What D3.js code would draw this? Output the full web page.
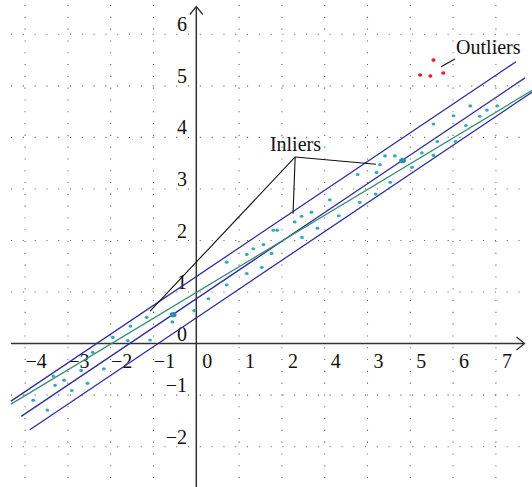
<!DOCTYPE html>
<html>
<head>
<meta charset="utf-8">
<script src="https://cdn.jsdelivr.net/npm/d3@7"></script>
<style>
  html, body { margin: 0; padding: 0; background: #fff; }
  svg { display: block; }
  text { font-family: "Liberation Serif", "Times New Roman", serif; font-size: 20px; fill: #111; }
</style>
</head>
<body>
<svg id="chart"></svg>
<script>
var width = 532, height = 487;

// tick values and their printed labels (the source prints "4" before "3")
var xTicks = [-4, -3, -2, -1, 0, 1, 2, 3, 4, 5, 6, 7];
var xTickLabels = ["\u22124", "\u22123", "\u22122", "\u22121", "0", "1", "2", "4", "3", "5", "6", "7"];
var yTicks = [-2, -1, 0, 1, 2, 3, 4, 5, 6];
var yTickLabels = ["\u22122", "\u22121", "0", "1", "2", "3", "4", "5", "6"];

// inlier points
var inlierX = [-3.81, -3.48, -3.34, -3.30, -3.09, -2.91, -2.69, -2.54, -2.42, -2.16,
               -1.95, -1.60, -1.54, -1.16, -1.08, -0.56, -0.05, 0.28, 0.71, 0.71,
               1.18, 1.18, 1.33, 1.53, 1.57, 1.76, 1.80, 1.89, 2.30, 2.46,
               2.47, 2.69, 2.83, 3.12, 3.33, 3.77, 3.82, 4.19, 4.21, 4.29,
               4.41, 4.53, 4.64, 5.04, 5.27, 5.54, 5.54, 5.63, 6.01, 6.06,
               6.30, 6.40, 6.62, 6.79, 7.03];
var inlierY = [-1.10, -1.29, -0.63, -0.81, -0.71, -0.91, -0.52, -0.77, -0.17, -0.49,
               0.12, 0.06, 0.34, 0.51, 0.07, 0.42, 0.64, 0.87, 1.58, 1.14,
               1.73, 1.36, 1.84, 1.48, 1.92, 1.75, 2.20, 2.20, 2.36, 2.47,
               2.06, 2.55, 2.24, 2.79, 2.48, 3.28, 2.74, 2.90, 3.32, 3.47,
               3.64, 3.13, 3.64, 3.42, 3.70, 4.26, 3.65, 3.92, 4.42, 3.92,
               4.23, 4.61, 4.41, 4.53, 4.61];

// the two sampled points
var sampleX = [-0.54, 4.82];
var sampleY = [0.56, 3.55];

// outliers
var outlierX = [5.54, 5.23, 5.47, 5.77];
var outlierY = [5.50, 5.21, 5.19, 5.25];

// model lines: [slope, intercept, xStart, xEnd]
var bandLines = [
    [0.558, 1.30, -4.33, 7.47],
    [0.558, 0.87, -4.09, 7.68],
    [0.558, 0.50, -3.89, 7.86]
];
var fitLine = [0.50, 0.99, -4.33, 7.86];

// annotation anchors
var inliersHub = [2.31, 3.62];
var inliersTargets = [[4.20, 3.48], [2.26, 2.52], [-1.08, 0.63]];
var outliersLeader = [[5.72, 5.37], [6.04, 5.52]];

var x = d3.scaleLinear().domain([-4, 7]).range([25.1, 495.9]);
var y = d3.scaleLinear().domain([-2, 6]).range([446.7, 34.3]);

var svg = d3.select("#chart")
    .attr("width", width)
    .attr("height", height);

var gGrid = svg.append("g"),
    gAxes = svg.append("g"),
    gLines = svg.append("g"),
    gPoints = svg.append("g"),
    gNotes = svg.append("g");

// dotted grid
gGrid.selectAll("line.v")
    .data(xTicks.filter(function(d) { return d != 0; }))
    .enter().append("line")
    .attr("x1", function(d) { return x(d); })
    .attr("x2", function(d) { return x(d); })
    .attr("y1", 5)
    .attr("y2", height)
    .style("stroke", "#666")
    .style("stroke-width", 1.1)
    .style("stroke-dasharray", "1.1,10.7");

gGrid.selectAll("line.h")
    .data(yTicks.filter(function(d) { return d != 0; }))
    .enter().append("line")
    .attr("y1", function(d) { return y(d); })
    .attr("y2", function(d) { return y(d); })
    .attr("x1", 11)
    .attr("x2", 526)
    .style("stroke", "#666")
    .style("stroke-width", 1.1)
    .style("stroke-dasharray", "1.1,10.7");

// axes with open arrowheads
var axisColor = "#333";
gAxes.append("line")
    .attr("x1", 11).attr("x2", 524)
    .attr("y1", y(0)).attr("y2", y(0))
    .style("stroke", axisColor).style("stroke-width", 1.5);
gAxes.append("path")
    .attr("d", "M" + 516.5 + "," + (y(0) - 6.5) + "L524.5," + y(0) + "L516.5," + (y(0) + 6.5))
    .style("fill", "none").style("stroke", axisColor).style("stroke-width", 1.3);

gAxes.append("line")
    .attr("x1", x(0)).attr("x2", x(0))
    .attr("y1", height).attr("y2", 7)
    .style("stroke", axisColor).style("stroke-width", 1.5);
gAxes.append("path")
    .attr("d", "M" + (x(0) - 6.5) + ",14.5L" + x(0) + ",6.5L" + (x(0) + 6.5) + ",14.5")
    .style("fill", "none").style("stroke", axisColor).style("stroke-width", 1.3);

// tick labels
gAxes.selectAll("text.xt")
    .data(xTicks)
    .enter().append("text")
    .attr("x", function(d) { return x(d) + 11; })
    .attr("y", y(0) + 24.5)
    .attr("text-anchor", "middle")
    .text(function(d, i) { return xTickLabels[i]; });

gAxes.selectAll("text.yt")
    .data(yTicks)
    .enter().append("text")
    .attr("x", 187)
    .attr("y", function(d) { return y(d) - 3; })
    .attr("text-anchor", "end")
    .text(function(d, i) { return yTickLabels[i]; });

// model lines
function drawModel(l, color) {
    gLines.append("line")
        .attr("x1", x(l[2]))
        .attr("y1", y(l[0] * l[2] + l[1]))
        .attr("x2", x(l[3]))
        .attr("y2", y(l[0] * l[3] + l[1]))
        .style("stroke", color)
        .style("stroke-width", 1.3);
}
bandLines.forEach(function(l) { drawModel(l, "#2e2e9c"); });
drawModel(fitLine, "#3a8d78");

// points
gPoints.selectAll("ellipse.in")
    .data(inlierX)
    .enter().append("ellipse")
    .attr("cx", function(d) { return x(d); })
    .attr("cy", function(d, i) { return y(inlierY[i]); })
    .attr("rx", 1.9)
    .attr("ry", 1.6)
    .style("fill", "#36a9b9");

gPoints.selectAll("ellipse.s")
    .data(sampleX)
    .enter().append("ellipse")
    .attr("cx", function(d) { return x(d); })
    .attr("cy", function(d, i) { return y(sampleY[i]); })
    .attr("rx", 3.4)
    .attr("ry", 2.7)
    .style("fill", "#2b8fae");

gPoints.selectAll("ellipse.out")
    .data(outlierX)
    .enter().append("ellipse")
    .attr("cx", function(d) { return x(d); })
    .attr("cy", function(d, i) { return y(outlierY[i]); })
    .attr("rx", 2.1)
    .attr("ry", 1.8)
    .style("fill", "#ee1c24");

// annotations
inliersTargets.forEach(function(t) {
    gNotes.append("line")
        .attr("x1", x(inliersHub[0])).attr("y1", y(inliersHub[1]))
        .attr("x2", x(t[0])).attr("y2", y(t[1]))
        .style("stroke", "#111").style("stroke-width", 1.1);
});
gNotes.append("text")
    .attr("x", x(1.72))
    .attr("y", y(3.74))
    .text("Inliers");

gNotes.append("line")
    .attr("x1", x(outliersLeader[0][0])).attr("y1", y(outliersLeader[0][1]))
    .attr("x2", x(outliersLeader[1][0])).attr("y2", y(outliersLeader[1][1]))
    .style("stroke", "#111").style("stroke-width", 1.1);
gNotes.append("text")
    .attr("x", x(6.07))
    .attr("y", y(5.62))
    .text("Outliers");
</script>
</body>
</html>
